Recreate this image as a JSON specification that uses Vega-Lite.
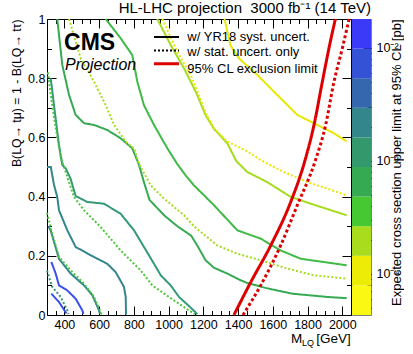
{
  "$schema": "https://vega.github.io/schema/vega-lite/v6.json",
  "background": "white",
  "padding": {"left": 10, "top": 0, "right": 0, "bottom": 0},
  "config": {
    "font": "Liberation Sans",
    "view": {"stroke": null},
    "axis": {"labelFont": "Liberation Sans", "titleFont": "Liberation Sans", "labelColor": "black", "titleColor": "black", "tickColor": "black", "titleFontWeight": "normal", "grid": false, "domain": false}
  },
  "resolve": {"scale": {"color": "independent", "strokeDash": "independent"}},
  "datasets": {
    "contours": [
      {"id": "s1", "kind": "syst", "lvl": "L1", "m": 325, "b": 0.072},
      {"id": "s1", "kind": "syst", "lvl": "L1", "m": 369, "b": 0.044},
      {"id": "s1", "kind": "syst", "lvl": "L1", "m": 412, "b": 0.005},
      {"id": "s2", "kind": "syst", "lvl": "L1", "m": 325, "b": 0.179},
      {"id": "s2", "kind": "syst", "lvl": "L1", "m": 350, "b": 0.14},
      {"id": "s2", "kind": "syst", "lvl": "L1", "m": 369, "b": 0.1},
      {"id": "s2", "kind": "syst", "lvl": "L1", "m": 417, "b": 0.083},
      {"id": "s2", "kind": "syst", "lvl": "L1", "m": 465, "b": 0.055},
      {"id": "s2", "kind": "syst", "lvl": "L1", "m": 503, "b": 0.016},
      {"id": "s2", "kind": "syst", "lvl": "L1", "m": 510, "b": 0.004},
      {"id": "d1", "kind": "stat", "lvl": "L3", "m": 300, "b": 0.15},
      {"id": "d1", "kind": "stat", "lvl": "L3", "m": 330, "b": 0.095},
      {"id": "d1", "kind": "stat", "lvl": "L3", "m": 379, "b": 0.061},
      {"id": "d1", "kind": "stat", "lvl": "L3", "m": 417, "b": 0.016},
      {"id": "d1", "kind": "stat", "lvl": "L3", "m": 424, "b": 0.004},
      {"id": "s3", "kind": "syst", "lvl": "L2", "m": 308, "b": 0.3},
      {"id": "s3", "kind": "syst", "lvl": "L2", "m": 321, "b": 0.286},
      {"id": "s3", "kind": "syst", "lvl": "L2", "m": 369, "b": 0.19},
      {"id": "s3", "kind": "syst", "lvl": "L2", "m": 436, "b": 0.14},
      {"id": "s3", "kind": "syst", "lvl": "L2", "m": 513, "b": 0.1},
      {"id": "s3", "kind": "syst", "lvl": "L2", "m": 561, "b": 0.067},
      {"id": "s3", "kind": "syst", "lvl": "L2", "m": 599, "b": 0.016},
      {"id": "s3", "kind": "syst", "lvl": "L2", "m": 605, "b": 0.004},
      {"id": "d2", "kind": "stat", "lvl": "L5", "m": 300, "b": 0.345},
      {"id": "d2", "kind": "stat", "lvl": "L5", "m": 330, "b": 0.275},
      {"id": "d2", "kind": "stat", "lvl": "L5", "m": 369, "b": 0.196},
      {"id": "d2", "kind": "stat", "lvl": "L5", "m": 436, "b": 0.151},
      {"id": "d2", "kind": "stat", "lvl": "L5", "m": 513, "b": 0.106},
      {"id": "d2", "kind": "stat", "lvl": "L5", "m": 571, "b": 0.061},
      {"id": "d2", "kind": "stat", "lvl": "L5", "m": 609, "b": 0.01},
      {"id": "d2", "kind": "stat", "lvl": "L5", "m": 613, "b": 0.002},
      {"id": "s4", "kind": "syst", "lvl": "L2", "m": 300, "b": 0.5},
      {"id": "s4", "kind": "syst", "lvl": "L2", "m": 322, "b": 0.5},
      {"id": "s4", "kind": "syst", "lvl": "L2", "m": 340, "b": 0.44},
      {"id": "s4", "kind": "syst", "lvl": "L2", "m": 359, "b": 0.399},
      {"id": "s4", "kind": "syst", "lvl": "L2", "m": 369, "b": 0.354},
      {"id": "s4", "kind": "syst", "lvl": "L2", "m": 417, "b": 0.286},
      {"id": "s4", "kind": "syst", "lvl": "L2", "m": 465, "b": 0.23},
      {"id": "s4", "kind": "syst", "lvl": "L2", "m": 551, "b": 0.202},
      {"id": "s4", "kind": "syst", "lvl": "L2", "m": 647, "b": 0.173},
      {"id": "s4", "kind": "syst", "lvl": "L2", "m": 695, "b": 0.145},
      {"id": "s4", "kind": "syst", "lvl": "L2", "m": 743, "b": 0.095},
      {"id": "s4", "kind": "syst", "lvl": "L2", "m": 753, "b": 0.061},
      {"id": "s4", "kind": "syst", "lvl": "L2", "m": 755, "b": 0.002},
      {"id": "s5", "kind": "syst", "lvl": "L3", "m": 321, "b": 0.8},
      {"id": "s5", "kind": "syst", "lvl": "L3", "m": 330, "b": 0.76},
      {"id": "s5", "kind": "syst", "lvl": "L3", "m": 340, "b": 0.709},
      {"id": "s5", "kind": "syst", "lvl": "L3", "m": 369, "b": 0.574},
      {"id": "s5", "kind": "syst", "lvl": "L3", "m": 388, "b": 0.507},
      {"id": "s5", "kind": "syst", "lvl": "L3", "m": 408, "b": 0.495},
      {"id": "s5", "kind": "syst", "lvl": "L3", "m": 436, "b": 0.46},
      {"id": "s5", "kind": "syst", "lvl": "L3", "m": 465, "b": 0.402},
      {"id": "s5", "kind": "syst", "lvl": "L3", "m": 532, "b": 0.382},
      {"id": "s5", "kind": "syst", "lvl": "L3", "m": 628, "b": 0.376},
      {"id": "s5", "kind": "syst", "lvl": "L3", "m": 724, "b": 0.342},
      {"id": "s5", "kind": "syst", "lvl": "L3", "m": 801, "b": 0.286},
      {"id": "s5", "kind": "syst", "lvl": "L3", "m": 858, "b": 0.23},
      {"id": "s5", "kind": "syst", "lvl": "L3", "m": 916, "b": 0.173},
      {"id": "s5", "kind": "syst", "lvl": "L3", "m": 955, "b": 0.134},
      {"id": "s5", "kind": "syst", "lvl": "L3", "m": 1012, "b": 0.1},
      {"id": "s5", "kind": "syst", "lvl": "L3", "m": 1060, "b": 0.061},
      {"id": "s5", "kind": "syst", "lvl": "L3", "m": 1127, "b": 0.025},
      {"id": "s5", "kind": "syst", "lvl": "L3", "m": 1165, "b": 0.003},
      {"id": "d3", "kind": "stat", "lvl": "L5", "m": 305, "b": 0.82},
      {"id": "d3", "kind": "stat", "lvl": "L5", "m": 320, "b": 0.75},
      {"id": "d3", "kind": "stat", "lvl": "L5", "m": 340, "b": 0.669},
      {"id": "d3", "kind": "stat", "lvl": "L5", "m": 379, "b": 0.534},
      {"id": "d3", "kind": "stat", "lvl": "L5", "m": 417, "b": 0.466},
      {"id": "d3", "kind": "stat", "lvl": "L5", "m": 455, "b": 0.399},
      {"id": "d3", "kind": "stat", "lvl": "L5", "m": 513, "b": 0.354},
      {"id": "d3", "kind": "stat", "lvl": "L5", "m": 609, "b": 0.297},
      {"id": "d3", "kind": "stat", "lvl": "L5", "m": 724, "b": 0.218},
      {"id": "d3", "kind": "stat", "lvl": "L5", "m": 839, "b": 0.151},
      {"id": "d3", "kind": "stat", "lvl": "L5", "m": 906, "b": 0.1},
      {"id": "d3", "kind": "stat", "lvl": "L5", "m": 1002, "b": 0.061},
      {"id": "d3", "kind": "stat", "lvl": "L5", "m": 1080, "b": 0.03},
      {"id": "d3", "kind": "stat", "lvl": "L5", "m": 1150, "b": 0.003},
      {"id": "s6", "kind": "syst", "lvl": "L4", "m": 359, "b": 1.0},
      {"id": "s6", "kind": "syst", "lvl": "L4", "m": 388, "b": 0.845},
      {"id": "s6", "kind": "syst", "lvl": "L4", "m": 427, "b": 0.743},
      {"id": "s6", "kind": "syst", "lvl": "L4", "m": 465, "b": 0.676},
      {"id": "s6", "kind": "syst", "lvl": "L4", "m": 513, "b": 0.648},
      {"id": "s6", "kind": "syst", "lvl": "L4", "m": 571, "b": 0.642},
      {"id": "s6", "kind": "syst", "lvl": "L4", "m": 647, "b": 0.625},
      {"id": "s6", "kind": "syst", "lvl": "L4", "m": 724, "b": 0.597},
      {"id": "s6", "kind": "syst", "lvl": "L4", "m": 791, "b": 0.563},
      {"id": "s6", "kind": "syst", "lvl": "L4", "m": 828, "b": 0.51},
      {"id": "s6", "kind": "syst", "lvl": "L4", "m": 858, "b": 0.449},
      {"id": "s6", "kind": "syst", "lvl": "L4", "m": 890, "b": 0.389},
      {"id": "s6", "kind": "syst", "lvl": "L4", "m": 974, "b": 0.337},
      {"id": "s6", "kind": "syst", "lvl": "L4", "m": 1050, "b": 0.3},
      {"id": "s6", "kind": "syst", "lvl": "L4", "m": 1130, "b": 0.268},
      {"id": "s6", "kind": "syst", "lvl": "L4", "m": 1165, "b": 0.235},
      {"id": "s6", "kind": "syst", "lvl": "L4", "m": 1213, "b": 0.185},
      {"id": "s6", "kind": "syst", "lvl": "L4", "m": 1260, "b": 0.16},
      {"id": "s6", "kind": "syst", "lvl": "L4", "m": 1338, "b": 0.14},
      {"id": "s6", "kind": "syst", "lvl": "L4", "m": 1405, "b": 0.12},
      {"id": "s6", "kind": "syst", "lvl": "L4", "m": 1453, "b": 0.108},
      {"id": "s6", "kind": "syst", "lvl": "L4", "m": 1568, "b": 0.09},
      {"id": "s6", "kind": "syst", "lvl": "L4", "m": 1712, "b": 0.072},
      {"id": "s6", "kind": "syst", "lvl": "L4", "m": 1914, "b": 0.061},
      {"id": "s6", "kind": "syst", "lvl": "L4", "m": 2025, "b": 0.057},
      {"id": "d4", "kind": "stat", "lvl": "L6", "m": 427, "b": 1.0},
      {"id": "d4", "kind": "stat", "lvl": "L6", "m": 494, "b": 0.867},
      {"id": "d4", "kind": "stat", "lvl": "L6", "m": 571, "b": 0.788},
      {"id": "d4", "kind": "stat", "lvl": "L6", "m": 638, "b": 0.709},
      {"id": "d4", "kind": "stat", "lvl": "L6", "m": 686, "b": 0.642},
      {"id": "d4", "kind": "stat", "lvl": "L6", "m": 753, "b": 0.586},
      {"id": "d4", "kind": "stat", "lvl": "L6", "m": 801, "b": 0.563},
      {"id": "d4", "kind": "stat", "lvl": "L6", "m": 830, "b": 0.51},
      {"id": "d4", "kind": "stat", "lvl": "L6", "m": 897, "b": 0.438},
      {"id": "d4", "kind": "stat", "lvl": "L6", "m": 974, "b": 0.393},
      {"id": "d4", "kind": "stat", "lvl": "L6", "m": 1089, "b": 0.337},
      {"id": "d4", "kind": "stat", "lvl": "L6", "m": 1146, "b": 0.3},
      {"id": "d4", "kind": "stat", "lvl": "L6", "m": 1280, "b": 0.235},
      {"id": "d4", "kind": "stat", "lvl": "L6", "m": 1396, "b": 0.207},
      {"id": "d4", "kind": "stat", "lvl": "L6", "m": 1530, "b": 0.185},
      {"id": "d4", "kind": "stat", "lvl": "L6", "m": 1683, "b": 0.157},
      {"id": "d4", "kind": "stat", "lvl": "L6", "m": 1837, "b": 0.134},
      {"id": "d4", "kind": "stat", "lvl": "L6", "m": 2025, "b": 0.123},
      {"id": "s7", "kind": "syst", "lvl": "L5b", "m": 638, "b": 1.0},
      {"id": "s7", "kind": "syst", "lvl": "L5b", "m": 724, "b": 0.935},
      {"id": "s7", "kind": "syst", "lvl": "L5b", "m": 791, "b": 0.878},
      {"id": "s7", "kind": "syst", "lvl": "L5b", "m": 820, "b": 0.788},
      {"id": "s7", "kind": "syst", "lvl": "L5b", "m": 858, "b": 0.709},
      {"id": "s7", "kind": "syst", "lvl": "L5b", "m": 916, "b": 0.642},
      {"id": "s7", "kind": "syst", "lvl": "L5b", "m": 993, "b": 0.563},
      {"id": "s7", "kind": "syst", "lvl": "L5b", "m": 1050, "b": 0.51},
      {"id": "s7", "kind": "syst", "lvl": "L5b", "m": 1100, "b": 0.47},
      {"id": "s7", "kind": "syst", "lvl": "L5b", "m": 1146, "b": 0.438},
      {"id": "s7", "kind": "syst", "lvl": "L5b", "m": 1261, "b": 0.371},
      {"id": "s7", "kind": "syst", "lvl": "L5b", "m": 1396, "b": 0.286},
      {"id": "s7", "kind": "syst", "lvl": "L5b", "m": 1530, "b": 0.258},
      {"id": "s7", "kind": "syst", "lvl": "L5b", "m": 1645, "b": 0.218},
      {"id": "s7", "kind": "syst", "lvl": "L5b", "m": 1761, "b": 0.19},
      {"id": "s7", "kind": "syst", "lvl": "L5b", "m": 2025, "b": 0.168},
      {"id": "s8", "kind": "syst", "lvl": "L6", "m": 935, "b": 1.0},
      {"id": "s8", "kind": "syst", "lvl": "L6", "m": 1012, "b": 0.912},
      {"id": "s8", "kind": "syst", "lvl": "L6", "m": 1089, "b": 0.833},
      {"id": "s8", "kind": "syst", "lvl": "L6", "m": 1160, "b": 0.75},
      {"id": "s8", "kind": "syst", "lvl": "L6", "m": 1213, "b": 0.675},
      {"id": "s8", "kind": "syst", "lvl": "L6", "m": 1260, "b": 0.63},
      {"id": "s8", "kind": "syst", "lvl": "L6", "m": 1338, "b": 0.58},
      {"id": "s8", "kind": "syst", "lvl": "L6", "m": 1390, "b": 0.52},
      {"id": "s8", "kind": "syst", "lvl": "L6", "m": 1453, "b": 0.483},
      {"id": "s8", "kind": "syst", "lvl": "L6", "m": 1568, "b": 0.449},
      {"id": "s8", "kind": "syst", "lvl": "L6", "m": 1700, "b": 0.4},
      {"id": "s8", "kind": "syst", "lvl": "L6", "m": 1818, "b": 0.376},
      {"id": "s8", "kind": "syst", "lvl": "L6", "m": 2025, "b": 0.337},
      {"id": "d5", "kind": "stat", "lvl": "L7", "m": 964, "b": 1.0},
      {"id": "d5", "kind": "stat", "lvl": "L7", "m": 1050, "b": 0.889},
      {"id": "d5", "kind": "stat", "lvl": "L7", "m": 1127, "b": 0.811},
      {"id": "d5", "kind": "stat", "lvl": "L7", "m": 1175, "b": 0.743},
      {"id": "d5", "kind": "stat", "lvl": "L7", "m": 1215, "b": 0.68},
      {"id": "d5", "kind": "stat", "lvl": "L7", "m": 1261, "b": 0.63},
      {"id": "d5", "kind": "stat", "lvl": "L7", "m": 1338, "b": 0.586},
      {"id": "d5", "kind": "stat", "lvl": "L7", "m": 1443, "b": 0.556},
      {"id": "d5", "kind": "stat", "lvl": "L7", "m": 1549, "b": 0.517},
      {"id": "d5", "kind": "stat", "lvl": "L7", "m": 1664, "b": 0.483},
      {"id": "d5", "kind": "stat", "lvl": "L7", "m": 1799, "b": 0.449},
      {"id": "d5", "kind": "stat", "lvl": "L7", "m": 1914, "b": 0.427},
      {"id": "d5", "kind": "stat", "lvl": "L7", "m": 2025, "b": 0.404},
      {"id": "s9", "kind": "syst", "lvl": "L7", "m": 1322, "b": 1.0},
      {"id": "s9", "kind": "syst", "lvl": "L7", "m": 1357, "b": 0.91},
      {"id": "s9", "kind": "syst", "lvl": "L7", "m": 1405, "b": 0.867},
      {"id": "s9", "kind": "syst", "lvl": "L7", "m": 1511, "b": 0.811},
      {"id": "s9", "kind": "syst", "lvl": "L7", "m": 1626, "b": 0.743},
      {"id": "s9", "kind": "syst", "lvl": "L7", "m": 1741, "b": 0.676},
      {"id": "s9", "kind": "syst", "lvl": "L7", "m": 1856, "b": 0.642},
      {"id": "s9", "kind": "syst", "lvl": "L7", "m": 1952, "b": 0.614},
      {"id": "s9", "kind": "syst", "lvl": "L7", "m": 2025, "b": 0.586}
    ],
    "red": [
      {"id": "rs", "kind": "rsyst", "m": 1376, "b": 0.0},
      {"id": "rs", "kind": "rsyst", "m": 1473, "b": 0.111},
      {"id": "rs", "kind": "rsyst", "m": 1588, "b": 0.235},
      {"id": "rs", "kind": "rsyst", "m": 1703, "b": 0.382},
      {"id": "rs", "kind": "rsyst", "m": 1780, "b": 0.512},
      {"id": "rs", "kind": "rsyst", "m": 1837, "b": 0.642},
      {"id": "rs", "kind": "rsyst", "m": 1885, "b": 0.788},
      {"id": "rs", "kind": "rsyst", "m": 1923, "b": 0.901},
      {"id": "rs", "kind": "rsyst", "m": 1960, "b": 1.0},
      {"id": "rd", "kind": "rstat", "m": 1428, "b": 0.0},
      {"id": "rd", "kind": "rstat", "m": 1530, "b": 0.1},
      {"id": "rd", "kind": "rstat", "m": 1645, "b": 0.235},
      {"id": "rd", "kind": "rstat", "m": 1741, "b": 0.371},
      {"id": "rd", "kind": "rstat", "m": 1842, "b": 0.517},
      {"id": "rd", "kind": "rstat", "m": 1904, "b": 0.642},
      {"id": "rd", "kind": "rstat", "m": 1952, "b": 0.788},
      {"id": "rd", "kind": "rstat", "m": 2000, "b": 0.901},
      {"id": "rd", "kind": "rstat", "m": 2039, "b": 1.0},
      {"id": "rl", "kind": "rsyst", "m": 916, "b": 0.849},
      {"id": "rl", "kind": "rsyst", "m": 1060, "b": 0.849}
    ],
    "legendLines": [
      {"id": "la", "kind": "syst", "m": 916, "b": 0.939},
      {"id": "la", "kind": "syst", "m": 1060, "b": 0.939},
      {"id": "lb", "kind": "stat", "m": 916, "b": 0.894},
      {"id": "lb", "kind": "stat", "m": 1060, "b": 0.894}
    ],
    "legendText": [
      {"m": 1108, "b": 0.939, "t": "w/ YR18 syst. uncert."},
      {"m": 1108, "b": 0.889, "t": "w/ stat. uncert. only"},
      {"m": 1108, "b": 0.831, "t": "95% CL exclusion limit"}
    ],
    "bands": [
      {"band": 0, "lo": 4.315e-5, "hi": 7.889e-5},
      {"band": 1, "lo": 7.889e-5, "hi": 1.443e-4},
      {"band": 2, "lo": 1.443e-4, "hi": 2.638e-4},
      {"band": 3, "lo": 2.638e-4, "hi": 4.825e-4},
      {"band": 4, "lo": 4.825e-4, "hi": 8.82e-4},
      {"band": 5, "lo": 8.82e-4, "hi": 1.613e-3},
      {"band": 6, "lo": 1.613e-3, "hi": 2.949e-3},
      {"band": 7, "lo": 2.949e-3, "hi": 5.392e-3},
      {"band": 8, "lo": 5.392e-3, "hi": 9.86e-3},
      {"band": 9, "lo": 9.86e-3, "hi": 1.803e-2}
    ]
  },
  "bounds": "flush",
  "spacing": 1,
  "hconcat": [
    {
      "width": 304,
      "height": 296,
      "view": {"stroke": "black", "strokeWidth": 1},
      "title": {"text": "HL-LHC projection\u00a0 3000 fb\u207b\u00b9 (14 TeV)", "anchor": "end", "frame": "group", "dx": 20, "dy": 3, "offset": 0, "fontSize": 15, "fontWeight": "normal", "font": "Liberation Sans", "color": "black"},
      "resolve": {"axis": {"x": "independent", "y": "independent"}},
      "layer": [
        {
          "data": {"name": "contours"},
          "mark": {"type": "line", "strokeWidth": 2},
          "encoding": {
            "x": {"field": "m", "type": "quantitative", "scale": {"domain": [300, 2050], "nice": false, "zero": false},
              "axis": {"orient": "bottom", "title": null, "values": [300,350,400,450,500,550,600,650,700,750,800,850,900,950,1000,1050,1100,1150,1200,1250,1300,1350,1400,1450,1500,1550,1600,1650,1700,1750,1800,1850,1900,1950,2000,2050],
                "format": "d", "labelExpr": "datum.value % 200 === 0 && datum.value >= 400 ? datum.label : ''",
                "tickSize": {"condition": {"test": "datum.value % 200 === 0", "value": -9}, "value": -4.5},
                "labelPadding": 12, "labelFontSize": 12.5, "labelFlush": false, "labelOverlap": false}},
            "y": {"field": "b", "type": "quantitative", "scale": {"domain": [0, 1], "nice": false, "zero": false},
              "axis": {"orient": "left", "values": [0,0.1,0.2,0.3,0.4,0.5,0.6,0.7,0.8,0.9,1],
                "labelExpr": "datum.value === 0 ? '0' : datum.value === 1 ? '1' : (round(datum.value*10) % 2 === 0 ? format(datum.value, '.1f') : '')",
                "tickSize": {"condition": {"test": "round(datum.value*10) % 2 === 0", "value": -9}, "value": -4.5},
                "labelPadding": 11, "labelFontSize": 12.5, "labelFlush": false, "labelOverlap": false,
                "title": "B(LQ\u2192 t\u03bc) = 1 - B(LQ\u2192 t\u03c4)", "titleFontSize": 12.3, "titleAnchor": "end", "titlePadding": 4}},
            "detail": {"field": "id"},
            "color": {"field": "lvl", "type": "nominal", "legend": null,
              "scale": {"domain": ["L1","L2","L3","L4","L5","L5b","L6","L7"], "range": ["#3a50ee","#33868c","#339a74","#36aa52","#4cc83a","#3fba46","#a5dc1e","#e8e800"]}},
            "strokeDash": {"field": "kind", "type": "nominal", "legend": null,
              "scale": {"domain": ["syst","stat","rsyst","rstat"], "range": [[1,0],[2,2],[1,0],[3,2.5]]}}
          }
        },
        {
          "data": {"name": "red"},
          "mark": {"type": "line", "strokeWidth": 3, "color": "#dd0000", "interpolate": "monotone"},
          "encoding": {
            "x": {"field": "m", "type": "quantitative", "scale": {"domain": [300, 2050], "nice": false, "zero": false},
              "axis": {"orient": "top", "title": null, "labels": false, "values": [300,350,400,450,500,550,600,650,700,750,800,850,900,950,1000,1050,1100,1150,1200,1250,1300,1350,1400,1450,1500,1550,1600,1650,1700,1750,1800,1850,1900,1950,2000,2050],
                "tickSize": {"condition": {"test": "datum.value % 200 === 0", "value": -9}, "value": -4.5}}},
            "y": {"field": "b", "type": "quantitative", "scale": {"domain": [0, 1], "nice": false, "zero": false},
              "axis": {"orient": "right", "title": null, "labels": false, "values": [0,0.1,0.2,0.3,0.4,0.5,0.6,0.7,0.8,0.9,1],
                "tickSize": {"condition": {"test": "round(datum.value*10) % 2 === 0", "value": -9}, "value": -4.5}}},
            "detail": {"field": "id"},
            "strokeDash": {"field": "kind", "type": "nominal", "legend": null}
          }
        },
        {
          "data": {"name": "legendLines"},
          "mark": {"type": "line", "strokeWidth": 2, "color": "black"},
          "encoding": {
            "x": {"field": "m", "type": "quantitative", "axis": null},
            "y": {"field": "b", "type": "quantitative", "axis": null},
            "detail": {"field": "id"},
            "strokeDash": {"field": "kind", "type": "nominal", "legend": null}
          }
        },
        {
          "data": {"name": "legendText"},
          "mark": {"type": "text", "align": "left", "baseline": "middle", "fontSize": 13, "font": "Liberation Sans", "color": "black"},
          "encoding": {
            "x": {"field": "m", "type": "quantitative", "axis": null},
            "y": {"field": "b", "type": "quantitative", "axis": null},
            "text": {"field": "t"}
          }
        },
        {
          "data": {"values": [{"m": 398, "b": 0.895, "t": "CMS"}]},
          "mark": {"type": "text", "align": "left", "baseline": "alphabetic", "fontSize": 23, "fontWeight": "bold", "font": "Liberation Sans", "color": "black"},
          "encoding": {
            "x": {"field": "m", "type": "quantitative", "axis": null},
            "y": {"field": "b", "type": "quantitative", "axis": null},
            "text": {"field": "t"}
          }
        },
        {
          "data": {"values": [{"m": 404, "b": 0.828, "t": "Projection"}]},
          "mark": {"type": "text", "align": "left", "baseline": "alphabetic", "fontSize": 16, "fontStyle": "italic", "font": "Liberation Sans", "color": "black"},
          "encoding": {
            "x": {"field": "m", "type": "quantitative", "axis": null},
            "y": {"field": "b", "type": "quantitative", "axis": null},
            "text": {"field": "t"}
          }
        },
        {
          "data": {"values": [{"m": 1770, "b": -0.0946, "t": "M"}, {"m": 2048, "b": -0.0946, "t": "[GeV]"}]},
          "mark": {"type": "text", "align": "right", "baseline": "alphabetic", "fontSize": 13.5, "font": "Liberation Sans", "color": "black"},
          "encoding": {
            "x": {"field": "m", "type": "quantitative", "axis": null},
            "y": {"field": "b", "type": "quantitative", "axis": null},
            "text": {"field": "t"}
          }
        },
        {
          "data": {"values": [{"m": 1837, "b": -0.105, "t": "LQ"}]},
          "mark": {"type": "text", "align": "right", "baseline": "alphabetic", "fontSize": 9, "font": "Liberation Sans", "color": "black"},
          "encoding": {
            "x": {"field": "m", "type": "quantitative", "axis": null},
            "y": {"field": "b", "type": "quantitative", "axis": null},
            "text": {"field": "t"}
          }
        }
      ]
    },
    {
      "width": 19,
      "height": 296,
      "view": {"stroke": "#808080", "strokeWidth": 1},
      "data": {"name": "bands"},
      "mark": {"type": "rect"},
      "encoding": {
        "x": {"value": 0},
        "x2": {"value": "width"},
        "y": {"field": "lo", "type": "quantitative", "scale": {"type": "log", "domain": [4.315e-5, 1.803e-2], "nice": false},
          "axis": {"orient": "right", "values": [5e-5,6e-5,7e-5,8e-5,9e-5,1e-4,2e-4,3e-4,4e-4,5e-4,6e-4,7e-4,8e-4,9e-4,1e-3,2e-3,3e-3,4e-3,5e-3,6e-3,7e-3,8e-3,9e-3,1e-2],
            "labelExpr": "abs(log(datum.value)/LN10 - round(log(datum.value)/LN10)) < 0.01 ? ('10' + (round(log(datum.value)/LN10) === -2 ? '\u207b\u00b2' : round(log(datum.value)/LN10) === -3 ? '\u207b\u00b3' : '\u207b\u2074')) : ''",
            "tickSize": {"condition": {"test": "abs(log(datum.value)/LN10 - round(log(datum.value)/LN10)) < 0.01", "value": -8}, "value": -4},
            "labelPadding": 13, "labelFontSize": 12.5, "labelFlush": false, "labelOverlap": false,
            "title": "Expected cross section upper limit at 95% CL [pb]", "titleFontSize": 13, "titleAngle": 270, "titleAnchor": "end", "titlePadding": 4}},
        "y2": {"field": "hi"},
        "color": {"field": "band", "type": "ordinal", "legend": null,
          "scale": {"domain": [0,1,2,3,4,5,6,7,8,9], "range": ["#f9f914","#ecec06","#a8dc1c","#46c832","#35aa52","#33996c","#33878a","#3567ae","#3452d6","#3a3af8"]}}
      }
    }
  ]
}
